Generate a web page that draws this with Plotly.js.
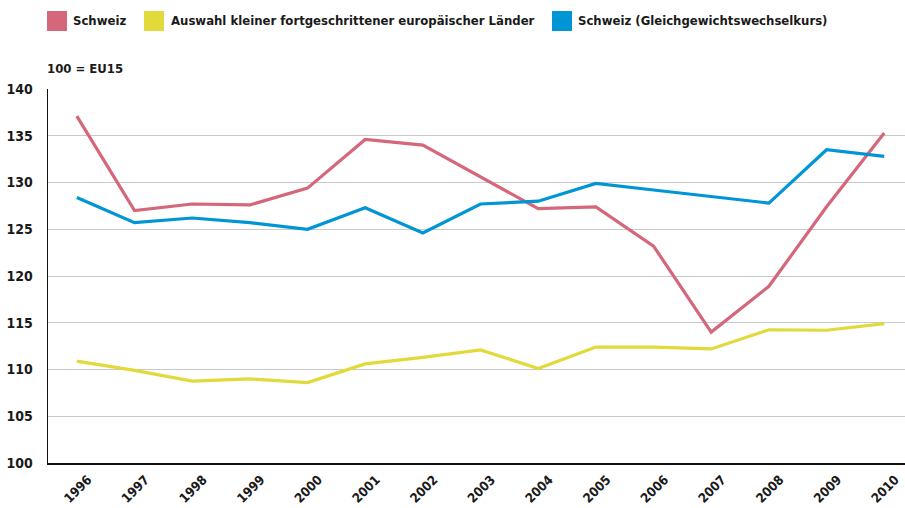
<!DOCTYPE html>
<html>
<head>
<meta charset="utf-8">
<script src="https://cdn.plot.ly/plotly-3.0.1.min.js"></script>
<style>
html,body{margin:0;padding:0;background:#fff;}
#chart{width:905px;height:508px;}
</style>
</head>
<body>
<div id="chart"></div>
<script>
const years = ['1996','1997','1998','1999','2000','2001','2002','2003','2004','2005','2006','2007','2008','2009','2010'];
const schweiz = [137.1,127.0,127.7,127.6,129.4,134.6,134.0,130.6,127.2,127.4,123.2,114.0,118.9,127.4,135.3];
const kleineLaender = [110.9,109.9,108.75,109.0,108.6,110.6,111.3,112.1,110.1,112.4,112.4,112.2,114.25,114.2,114.9];
const schweizGGW = [128.4,125.7,126.2,125.7,125.0,127.3,124.6,127.7,128.0,129.9,129.2,128.5,127.8,133.5,132.8];
const seriesNames = ['Schweiz','Auswahl kleiner fortgeschrittener europäischer Länder','Schweiz (Gleichgewichtswechselkurs)'];
const seriesColors = ['#d5677a','#e2d93b','#0095d4'];
const yTicks = [100,105,110,115,120,125,130,135,140];
const unitLabel = '100 = EU15';

const FONT = '"Liberation Sans Narrow", "DejaVu Sans Condensed", "Roboto", sans-serif';
const W = 905, H = 508, L = 48, R = 0, T = 89, B = 45;
const pw = W - L - R, ph = H - T - B;
const px = x => (x - L) / pw;
const py = y => (H - B - y) / ph;

const xs = years.map(Number);
const data = [schweiz, kleineLaender, schweizGGW].map((vals, i) => ({
  type: 'scatter', mode: 'lines', x: xs, y: vals, name: seriesNames[i],
  line: {color: seriesColors[i], width: 3.2}, showlegend: false, hoverinfo: 'skip'
}));

// legend drawn as squares + text (positions in pixels)
const legendPos = [[47, 73], [144, 171], [552, 578]];
const shapes = [], annotations = [];
legendPos.forEach((p, i) => {
  shapes.push({type: 'rect', xref: 'paper', yref: 'paper', x0: px(p[0]), x1: px(p[0] + 20), y0: py(31), y1: py(11), fillcolor: seriesColors[i], line: {width: 0}});
  annotations.push({xref: 'paper', yref: 'paper', x: px(p[1] - 2), y: py(21), xanchor: 'left', yanchor: 'middle', text: '<b>' + seriesNames[i] + '</b>', showarrow: false, font: {family: FONT, size: 13, color: '#1a1a1a'}});
});
annotations.push({xref: 'paper', yref: 'paper', x: px(45), y: py(68), xanchor: 'left', yanchor: 'middle', text: '<b>' + unitLabel + '</b>', showarrow: false, font: {family: FONT, size: 13, color: '#1a1a1a'}});

const layout = {
  width: W, height: H,
  margin: {l: L, r: R, t: T, b: B, pad: 0},
  paper_bgcolor: '#fff', plot_bgcolor: '#fff',
  showlegend: false,
  xaxis: {
    range: [1995.5, 2010.36], tickvals: xs, ticktext: years, tickangle: -45,
    showgrid: false, zeroline: false, showline: true, linecolor: '#111', linewidth: 2,
    ticks: '', ticklabelshift: 11, ticklabelstandoff: 2,
    tickfont: {family: FONT, size: 13, color: '#1a1a1a', weight: 'bold'}
  },
  yaxis: {
    range: [100, 140], tickvals: yTicks, ticktext: yTicks.map(String),
    showgrid: true, gridcolor: '#c9c9c9', gridwidth: 1, zeroline: false,
    showline: true, linecolor: '#111', linewidth: 1.5, ticks: '', ticklabelstandoff: 11,
    tickfont: {family: FONT, size: 14, color: '#1a1a1a', weight: 'bold'}
  },
  shapes: shapes, annotations: annotations
};
Plotly.newPlot('chart', data, layout, {displayModeBar: false, staticPlot: true});
</script>
</body>
</html>
